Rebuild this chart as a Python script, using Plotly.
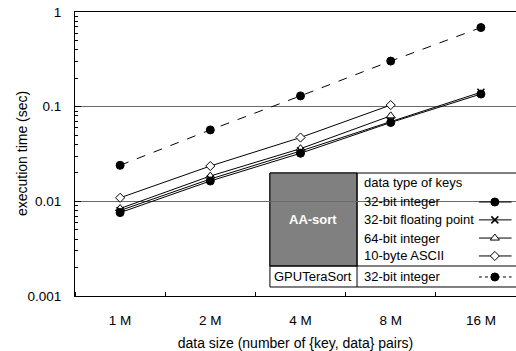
import plotly.graph_objects as go

categories = ["1 M", "2 M", "4 M", "8 M", "16 M"]
aa_int32 = [0.0076, 0.0164, 0.0322, 0.068, 0.136]
aa_float32 = [0.0080, 0.0172, 0.0340, 0.070, 0.142]
aa_int64 = [0.0084, 0.0185, 0.0360, 0.080]
aa_ascii = [0.0109, 0.0236, 0.0472, 0.104]
gpu_int32 = [0.024, 0.0568, 0.130, 0.303, 0.685]

legend_rows = ["32-bit integer", "32-bit floating point", "64-bit integer", "10-byte ASCII"]

FONT = "Liberation Sans, Arial, sans-serif"
BLK = "#000000"
FS_TICK = 13.5
FS_TITLE = 14
FS_LEG = 13

fig = go.Figure()

xs = list(range(len(categories)))

def add(vals, symbol, fill, dash="solid", size=7, lw=1):
    fig.add_trace(go.Scatter(
        x=xs[:len(vals)], y=vals, mode="lines+markers",
        line=dict(color=BLK, width=1, dash=dash),
        marker=dict(symbol=symbol, size=size, color=fill, line=dict(color=BLK, width=lw)),
        showlegend=False, cliponaxis=False))

add(gpu_int32, "circle", BLK, dash="dash", size=8)
add(aa_ascii, "diamond", "white", size=7)
add(aa_int64, "triangle-up", "white", size=8)
add(aa_float32, "x-thin", BLK, size=7, lw=1.5)
add(aa_int32, "circle", BLK, size=8)

# Legend table (layout positions in paper fractions)
x0, xg, x1 = 0.442, 0.6395, 1.02
ytop, ygray, ybot = 0.433, 0.1056, 0.0317
fig.add_shape(type="rect", xref="paper", yref="paper", x0=x0, x1=x1, y0=ybot, y1=ytop,
              fillcolor="white", line=dict(color=BLK, width=1), layer="between")
fig.add_shape(type="rect", xref="paper", yref="paper", x0=x0, x1=xg, y0=ygray, y1=ytop,
              fillcolor="#808080", line=dict(color=BLK, width=1), layer="between")
fig.add_shape(type="line", xref="paper", yref="paper", x0=xg, x1=xg, y0=ybot, y1=ytop,
              line=dict(color=BLK, width=1), layer="between")
fig.add_shape(type="line", xref="paper", yref="paper", x0=x0, x1=x1, y0=ygray, y1=ygray,
              line=dict(color=BLK, width=1), layer="between")

tx = 0.651
fig.add_annotation(x=tx, y=0.401, xref="paper", yref="paper", text="data type of keys",
                   showarrow=False, xanchor="left", yanchor="middle",
                   font=dict(family=FONT, size=FS_LEG, color=BLK))
row_y = [0.331, 0.268, 0.204, 0.141]
for name, yy in zip(legend_rows, row_y):
    fig.add_annotation(x=tx, y=yy, xref="paper", yref="paper", text=name,
                       showarrow=False, xanchor="left", yanchor="middle",
                       font=dict(family=FONT, size=FS_LEG, color=BLK))
fig.add_annotation(x=tx, y=0.067, xref="paper", yref="paper", text=legend_rows[0],
                   showarrow=False, xanchor="left", yanchor="middle",
                   font=dict(family=FONT, size=FS_LEG, color=BLK))
fig.add_annotation(x=(x0 + xg) / 2, y=0.268, xref="paper", yref="paper", text="<b>AA-sort</b>",
                   showarrow=False, xanchor="center", yanchor="middle",
                   font=dict(family=FONT, size=FS_LEG, color="white"))
fig.add_annotation(x=(x0 + xg) / 2, y=0.067, xref="paper", yref="paper", text="GPUTeraSort",
                   showarrow=False, xanchor="center", yanchor="middle",
                   font=dict(family=FONT, size=FS_LEG, color=BLK))

# y-axis title placed as rotated annotation
fig.add_annotation(x=-0.120, y=0.5, xref="paper", yref="paper", text="execution time (sec)",
                   showarrow=False, textangle=-90, xanchor="center", yanchor="middle",
                   font=dict(family=FONT, size=FS_TITLE, color=BLK))

# legend sample symbols on an overlay axis [0,1]x[0,1]
lx0, lxm, lx1 = 0.916, 0.952, 0.99
samples = [("circle", BLK, "solid", 8, 1, row_y[0]),
           ("x-thin", BLK, "solid", 7, 1.5, row_y[1]),
           ("triangle-up", "white", "solid", 8, 1, row_y[2]),
           ("diamond", "white", "solid", 7, 1, row_y[3]),
           ("circle", BLK, "dot", 8, 1, 0.067)]
for sym, fill, dash, sz, lw, yy in samples:
    fig.add_trace(go.Scatter(x=[lx0, lx1], y=[yy, yy], mode="lines", xaxis="x2", yaxis="y2",
                             line=dict(color=BLK, width=1, dash=dash), showlegend=False,
                             hoverinfo="skip", cliponaxis=False))
    fig.add_trace(go.Scatter(x=[lxm], y=[yy], mode="markers", xaxis="x2", yaxis="y2",
                             marker=dict(symbol=sym, size=sz, color=fill, line=dict(color=BLK, width=lw)),
                             showlegend=False, hoverinfo="skip", cliponaxis=False))

fig.update_layout(
    width=516, height=351,
    margin=dict(l=75, r=0, t=12, b=55, autoexpand=False),
    paper_bgcolor="white", plot_bgcolor="white",
    font=dict(family=FONT, size=FS_TICK, color=BLK),
    xaxis=dict(
        automargin=False,
        range=[-0.5, 4.389], tickmode="array", tickvals=xs, ticktext=categories,
        ticks="", showgrid=False, zeroline=False,
        showline=True, linecolor=BLK, linewidth=1, mirror=True,
        minor=dict(tick0=0.5, dtick=1, ticks="inside", ticklen=4, tickcolor=BLK, showgrid=False),
        title=dict(text="data size (number of {key, data} pairs)", standoff=10,
                   font=dict(family=FONT, size=FS_TITLE, color=BLK)),
        tickfont=dict(family=FONT, size=FS_TICK, color=BLK), ticklabelstandoff=12,
    ),
    yaxis=dict(
        automargin=False,
        type="log", range=[-3, 0], tickmode="array",
        tickvals=[0.001, 0.01, 0.1, 1], ticktext=["0.001", "0.01", "0.1", "1"],
        ticks="inside", ticklen=6, tickcolor=BLK,
        showgrid=True, gridcolor="#6a6a6a", gridwidth=1, zeroline=False,
        showline=True, linecolor=BLK, linewidth=1,
        minor=dict(ticks="inside", ticklen=3, tickcolor=BLK, showgrid=False,
                   tickvals=[m * 10 ** e for e in (-3, -2, -1) for m in range(2, 10)]),
        tickfont=dict(family=FONT, size=FS_TICK, color=BLK), ticklabelstandoff=10,
    ),
    xaxis2=dict(domain=[0, 1], range=[0, 1], overlaying="x", visible=False, fixedrange=True,
                anchor="y2"),
    yaxis2=dict(domain=[0, 1], range=[0, 1], overlaying="y", visible=False, fixedrange=True,
                anchor="x2"),
)

fig.write_html("out.html", config={"displayModeBar": False},
               post_script="document.body.style.margin='0';document.body.style.overflow='hidden';")
